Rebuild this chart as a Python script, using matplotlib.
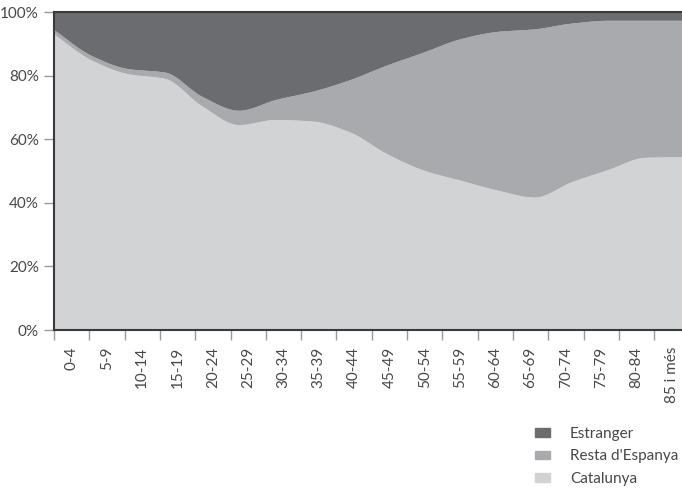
import numpy as np
import matplotlib
matplotlib.use("Agg")
import matplotlib.pyplot as plt
from matplotlib.patches import Patch

plt.rcParams['font.family'] = ['Lato', 'DejaVu Sans']

age_groups = ["0-4", "5-9", "10-14", "15-19", "20-24", "25-29", "30-34", "35-39",
              "40-44", "45-49", "50-54", "55-59", "60-64", "65-69", "70-74",
              "75-79", "80-84", "85 i més"]

# shares in %
catalunya = [93.0, 85.0, 80.6, 79.1, 70.5, 64.6, 66.2, 65.7, 62.3, 55.5,
             50.3, 47.1, 44.0, 41.8, 46.6, 50.5, 54.3, 54.5]
resta = [1.4, 1.4, 1.6, 2.0, 3.0, 4.5, 6.3, 9.4, 16.4, 27.8,
         37.1, 44.5, 49.9, 52.9, 49.9, 46.9, 43.1, 42.9]
estranger = [5.6, 13.6, 17.8, 18.9, 26.5, 30.9, 27.5, 24.9, 21.3, 16.7,
             12.6, 8.4, 6.1, 5.3, 3.5, 2.6, 2.6, 2.6]

c_cat = "#d2d3d5"
c_resta = "#a9aaae"
c_estr = "#6b6c70"
txt = "#474747"


def pchip(x, y, xs):
    # monotone cubic, just for drawing the smooth edges
    h = np.diff(x)
    d = np.diff(y) / h
    m = np.zeros_like(y)
    m[0], m[-1] = d[0], d[-1]
    for i in range(1, len(y) - 1):
        if d[i - 1] * d[i] > 0:
            w1 = 2 * h[i] + h[i - 1]
            w2 = h[i] + 2 * h[i - 1]
            m[i] = (w1 + w2) / (w1 / d[i - 1] + w2 / d[i])
    k = np.clip(np.searchsorted(x, xs) - 1, 0, len(x) - 2)
    t = (xs - x[k]) / h[k]
    h00 = 2 * t**3 - 3 * t**2 + 1
    h10 = t**3 - 2 * t**2 + t
    h01 = -2 * t**3 + 3 * t**2
    h11 = t**3 - t**2
    return h00 * y[k] + h10 * h[k] * m[k] + h01 * y[k + 1] + h11 * h[k] * m[k + 1]


fig = plt.figure(figsize=(6.82, 4.92), dpi=100)
ax = fig.add_axes([54 / 682, 162 / 492, 628 / 682, 318 / 492])

n = len(age_groups)
xmax = 628 / 35.3
xp = np.linspace(0, xmax, n)
xs = np.linspace(0, xmax, 600)

low = pchip(xp, np.array(catalunya), xs)
mid = pchip(xp, np.array(catalunya) + np.array(resta), xs)

ax.fill_between(xs, 0, low, color=c_cat, lw=0)
ax.fill_between(xs, low, mid, color=c_resta, lw=0)
ax.fill_between(xs, mid, 100, color=c_estr, lw=0)

ax.set_xlim(0, xmax)
ax.set_ylim(0, 100)

ax.set_xticks(np.arange(n))
ax.set_xticks(np.arange(n) + 0.5, minor=True)
ax.set_xticklabels([])
ax.set_xticklabels(age_groups, minor=True, rotation=90, fontsize=11,
                   color=txt, va="top")
ax.tick_params(axis="x", which="major", length=7, color="#9a9a9a", width=1)
ax.tick_params(axis="x", which="minor", length=0, pad=12)

ax.set_yticks(range(0, 101, 20))
ax.set_yticklabels([f"{v}%" for v in range(0, 101, 20)], fontsize=11,
                   color=txt)
ax.tick_params(axis="y", length=7, color="#9a9a9a", width=1, pad=4)

for s in ["left", "bottom", "top"]:
    ax.spines[s].set_color("#3a3a3a")
    ax.spines[s].set_linewidth(1.5)
ax.spines["right"].set_visible(False)

handles = [Patch(color=c_estr), Patch(color=c_resta), Patch(color=c_cat)]
fig.legend(handles, ["Estranger", "Resta d'Espanya", "Catalunya"],
           loc="upper left", bbox_to_anchor=(0.784, 0.132), frameon=False,
           handlelength=1.0, handleheight=0.5,
           handletextpad=1.3, labelspacing=0.55, borderpad=0,
           borderaxespad=0, prop={"size": 11})
for t in fig.legends[0].get_texts():
    t.set_color(txt)

fig.savefig("out.png", dpi=100)
